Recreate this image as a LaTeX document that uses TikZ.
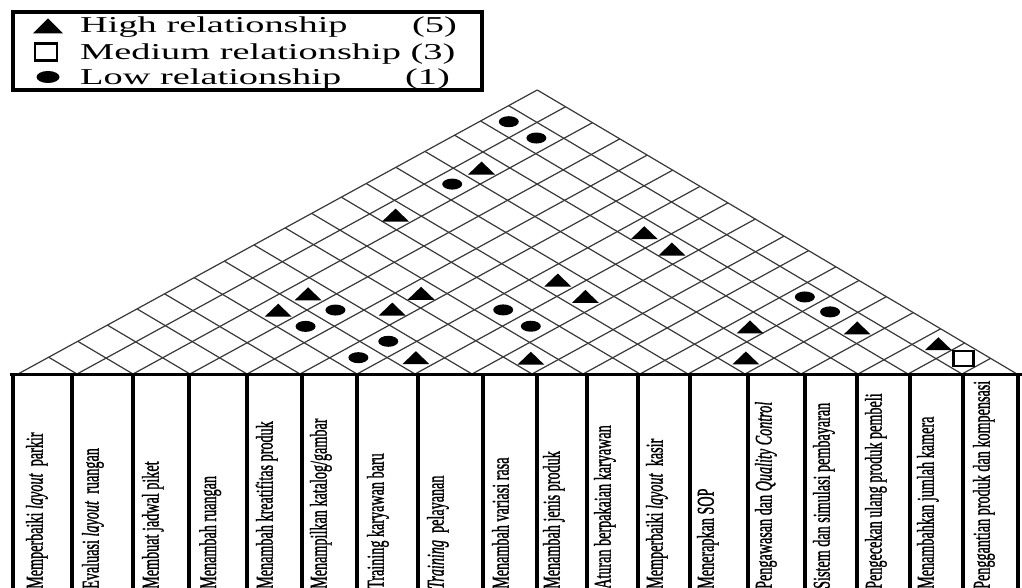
\documentclass[tikz,border=0pt]{standalone}
\usepackage{graphicx}
\usepackage{fontspec}
\setmainfont{Liberation Serif}
\newfontfamily\labfont{Liberation Serif}[FakeBold=1.5]
\newcommand\colt[1]{\scalebox{0.59}[1]{#1}}
\newcommand\legt[1]{\scalebox{1.69}[1]{#1}}
\begin{document}
\begin{tikzpicture}[x=1pt,y=-1pt,
  roof/.style={draw=black!78,line width=1.2pt},
  colrule/.style={line width=3.6pt,black},
  baserule/.style={line width=3pt,black},
  lab/.style={rotate=90,anchor=base west,inner sep=0pt,font=\labfont\fontsize{24}{28}\selectfont},
  legtext/.style={anchor=base west,inner sep=0pt,font=\fontsize{22.7}{26}\selectfont},
  strong/.style={fill=black},
  weak/.style={fill=black},
  medium/.style={draw=black,line width=2.6pt,fill=white}
]
\useasboundingbox (0,0) rectangle (1022,588);

% foot points of the roof diagonals and the two slopes
\def\valleys{{18,77,133,190,247,300,357,415,472,532,583,640,688,745,801,858,908,962,1017}}
\def\slopeR{0.547}
\def\slopeL{0.592}

% diagonals rising to the right, ending on the right edge
\foreach \i in {0,...,17}{
  \pgfmathsetmacro\u{\valleys[\i]}
  \pgfmathsetmacro\px{(\slopeR*\u+\slopeL*1017)/(\slopeR+\slopeL)}
  \pgfmathsetmacro\py{374-\slopeR*\slopeL*(1017-\u)/(\slopeR+\slopeL)}
  \draw[roof] (\u,374) -- (\px,\py);
}
% diagonals rising to the left, ending on the left edge
\foreach \j in {1,...,18}{
  \pgfmathsetmacro\w{\valleys[\j]}
  \pgfmathsetmacro\px{(\slopeR*18+\slopeL*\w)/(\slopeR+\slopeL)}
  \pgfmathsetmacro\py{374-\slopeR*\slopeL*(\w-18)/(\slopeR+\slopeL)}
  \draw[roof] (\w,374) -- (\px,\py);
}

% centre of the roof cell shared by columns a and b
\newcommand\cellat[2]{%
  \pgfmathtruncatemacro\ap{#1-1}%
  \pgfmathtruncatemacro\bp{#2-1}%
  \pgfmathsetmacro\vaa{\valleys[\ap]}%
  \pgfmathsetmacro\vab{\valleys[#1]}%
  \pgfmathsetmacro\vba{\valleys[\bp]}%
  \pgfmathsetmacro\vbb{\valleys[#2]}%
  \pgfmathsetmacro\ma{(\vaa+\vab)/2}%
  \pgfmathsetmacro\mb{(\vba+\vbb)/2}%
  \pgfmathsetmacro\cx{(\slopeR*\ma+\slopeL*\mb)/(\slopeR+\slopeL)}%
  \pgfmathsetmacro\cy{374-\slopeR*\slopeL*(\mb-\ma)/(\slopeR+\slopeL)}%
  \coordinate (c-#1-#2) at (\cx,\cy);}

% high relationships
\foreach \a/\b in {2/15,2/12,7/16,8/16,7/13,8/13,3/8,5/10,3/7,5/9,7/8,9/10,12/15,14/17,16/18,13/14}{
  \cellat{\a}{\b}
  \fill[strong] (c-\a-\b) ++(-13.5,6.5) -- ++(27,0) -- ++(-13.5,-13) -- cycle;
}
% low relationships
\foreach \a/\b in {1/17,2/17,2/14,4/8,7/11,4/7,6/8,8/11,6/7,12/17,13/17}{
  \cellat{\a}{\b}
  \fill[weak] (c-\a-\b) ellipse [x radius=10pt,y radius=5.5pt];
}
% medium relationship
\cellat{17}{18}
\draw[medium] (c-17-18) +(-10,-7.5) rectangle +(10,7.5);

% column frame
\draw[baserule] (10,374) -- (1022,374);
\foreach \x in {13,72,133,189,247,302,357,418,483,537,587,638,690,748,805,857,910,963,1018}{
  \draw[colrule] (\x,374) -- (\x,590);
}

% column headings
\node[lab] (k1)  at (42.6,589)  {\colt{Memperbaiki \textit{layout}\ \ parkir}};
\node[lab] (k2)  at (98.6,589)  {\colt{Evaluasi \textit{layout}\ \ ruangan}};
\node[lab] (k3)  at (158.6,589) {\colt{Membuat jadwal piket}};
\node[lab] (k4)  at (216,589)   {\colt{Menambah ruangan}};
\node[lab] (k5)  at (272.6,589) {\colt{Menambah kreatifitas produk}};
\node[lab] (k6)  at (326.6,589) {\colt{Menampilkan katalog/gambar}};
\node[lab] (k7)  at (383.6,589) {\colt{Training karyawan baru}};
\node[lab] (k8)  at (443.6,589) {\colt{\textit{Training}\ \ pelayanan}};
\node[lab] (k9)  at (508.6,589) {\colt{Menambah variasi rasa}};
\node[lab] (k10) at (559.6,589) {\colt{Menambah jenis produk}};
\node[lab] (k11) at (610.6,589) {\colt{Aturan berpakaian karyawan}};
\node[lab] (k12) at (662.6,589) {\colt{Memperbaiki \textit{layout}\ \ kasir}};
\node[lab] (k13) at (713.6,589) {\colt{Menerapkan SOP}};
\node[lab] (k14) at (771.6,589) {\colt{Pengawasan dan \textit{Quality Control}}};
\node[lab] (k15) at (829.6,589) {\colt{Sistem dan simulasi pembayaran}};
\node[lab] (k16) at (881.6,589) {\colt{Pengecekan ulang produk pembeli}};
\node[lab] (k17) at (933.6,589) {\colt{Menambahkan jumlah kamera}};
\node[lab] (k18) at (989.6,589) {\colt{Penggantian produk dan kompensasi}};

% legend
\draw[line width=3.4pt] (13,12) rectangle (482,90);
\coordinate (lgh) at (48,26);
\coordinate (lgm) at (46,52);
\coordinate (lgl) at (48,77);
\fill[strong] (lgh) ++(-15,7.5) -- ++(30,0) -- ++(-15,-15) -- cycle;
\draw[medium] (lgm) +(-11,-8.5) rectangle +(11,8.5);
\fill[weak] (lgl) ellipse [x radius=11.5pt,y radius=6pt];
\node[legtext] (lt1) at (80,33) {\legt{High relationship}};
\node[legtext] (lv1) at (412,33) {\legt{(5)}};
\node[legtext] (lt2) at (80,60) {\legt{Medium relationship (3)}};
\node[legtext] (lt3) at (80,85) {\legt{Low relationship}};
\node[legtext] (lv3) at (405,85) {\legt{(1)}};
\end{tikzpicture}
\end{document}
